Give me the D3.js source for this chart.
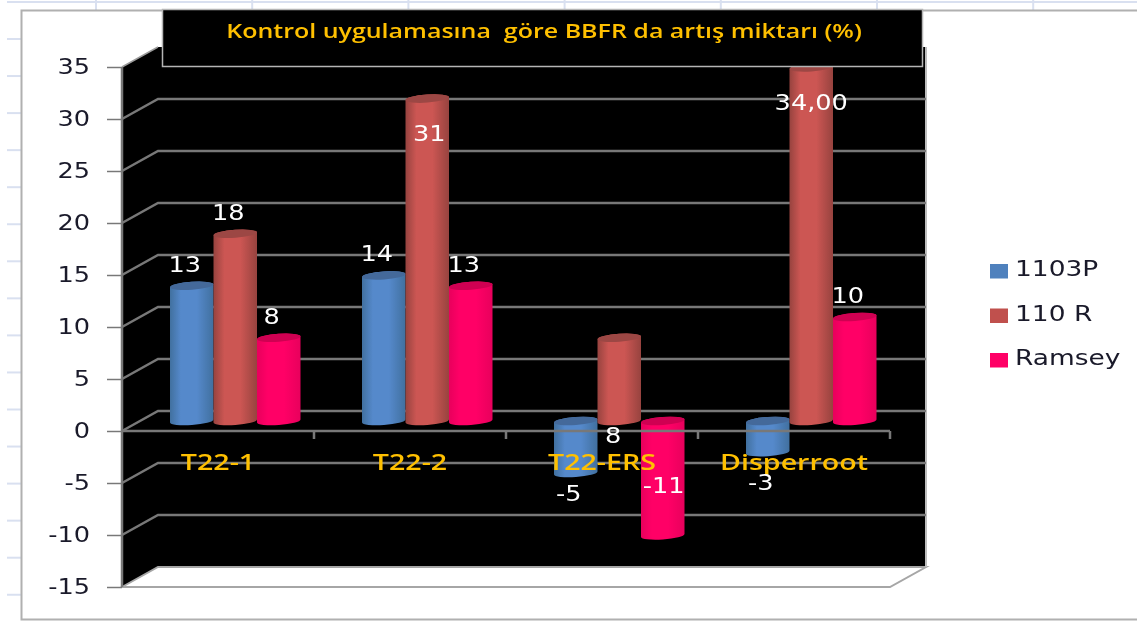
<!DOCTYPE html>
<html><head><meta charset="utf-8">
<script src="https://cdn.jsdelivr.net/npm/d3@7"></script>
<style>
html,body{margin:0;padding:0;background:#fff;overflow:hidden}
svg{display:block;filter:blur(0.45px)}
text{white-space:pre}
</style></head><body>
<svg id="c" width="1137" height="621"></svg>
<script>
const titleText = "Kontrol uygulamasına  göre BBFR da artış miktarı (%)";
const categories = ["T22-1", "T22-2", "T22-ERS", "Disperroot"];
const seriesNames = ["1103P", "110 R", "Ramsey"];
const values1103P = [13, 14, -5, -3];
const values110R = [18, 31, 8, 34];
const valuesRamsey = [8, 13, -11, 10];
const labels1103P = ["13", "14", "-5", "-3"];
const labels110R = ["18", "31", "8", "34,00"];
const labelsRamsey = ["8", "13", "-11", "10"];
const yTicks = [-15, -10, -5, 0, 5, 10, 15, 20, 25, 30, 35];
const seriesColors = [
  {mid:"#5589cb", edge:"#41709f", top:"#44699a", key:"#4f81bd"},
  {mid:"#cc5653", edge:"#97433f", top:"#9c4744", key:"#c0504d"},
  {mid:"#ff0066", edge:"#e8005c", top:"#cf0052", key:"#ff0066"}
];

const svg = d3.select("#c");
const W = 1137, H = 621;
const FRONT_L = 122, FRONT_R = 890, FRONT_TOP = 67, FRONT_BOT = 587;
const DX = 36, DY = -20;
const AX = "#787878";
const SX = 1.22;
const valueFont = "'DejaVu Sans', Verdana, sans-serif";

const y = d3.scaleLinear().domain([-15, 35]).range([FRONT_BOT, FRONT_TOP]);
const x = d3.scaleBand().domain(categories).range([FRONT_L, FRONT_R]);
const inner = d3.scaleBand().domain(seriesNames).range([48, 48 + 130.5]);
const barY = v => y(v) - 10;

// gradient defs
const defs = svg.append("defs");
seriesColors.forEach((c, i) => {
  const g = defs.append("linearGradient").attr("id", "g" + i);
  [[0, c.edge], [0.25, c.mid], [0.62, c.mid], [1, c.edge]].forEach(s =>
    g.append("stop").attr("offset", s[0]).attr("stop-color", s[1]));
});

// spreadsheet remnants behind the chart
const sheet = svg.append("g").attr("stroke", "#d9e0f0").attr("stroke-width", 2).attr("fill", "none");
sheet.append("line").attr("x1", 7).attr("x2", W).attr("y1", 2).attr("y2", 2);
d3.range(96, W, 156.2).forEach(v =>
  sheet.append("line").attr("x1", v).attr("x2", v).attr("y1", 0).attr("y2", 10));
d3.range(39, 600, 37.05).forEach(v =>
  sheet.append("line").attr("x1", 7).attr("x2", 21).attr("y1", v).attr("y2", v));

// chart frame
svg.append("path").attr("d", `M${W},10.5 H21.5 V619.5 H${W}`)
  .attr("fill", "#fff").attr("stroke", "#b0b0b0").attr("stroke-width", 2);

// walls
const wall = svg.append("g");
wall.append("path")
  .attr("d", `M${FRONT_L},${FRONT_TOP} L${FRONT_L + DX},${FRONT_TOP + DY} H${FRONT_R + DX} V${FRONT_BOT + DY} H${FRONT_L + DX} L${FRONT_L},${FRONT_BOT} Z`)
  .attr("fill", "#000");
wall.append("path")
  .attr("d", `M${FRONT_L},${FRONT_BOT} L${FRONT_L + DX},${FRONT_BOT + DY} H${FRONT_R + DX} L${FRONT_R},${FRONT_BOT} Z`)
  .attr("fill", "#fff").attr("stroke", "#a6a6a6").attr("stroke-width", 2);
wall.append("line").attr("x1", FRONT_R + DX).attr("x2", FRONT_R + DX)
  .attr("y1", FRONT_TOP + DY).attr("y2", FRONT_BOT + DY).attr("stroke", "#bdbdbd").attr("stroke-width", 2);
wall.append("line").attr("x1", FRONT_L).attr("x2", FRONT_L + DX)
  .attr("y1", FRONT_TOP).attr("y2", FRONT_TOP + DY).attr("stroke", "#9a9a9a").attr("stroke-width", 1.5);

// gridlines on back and side wall
const grid = svg.append("g").attr("fill", "none").attr("stroke", AX).attr("stroke-width", 2.5);
yTicks.filter(t => t > -15 && t < 35).forEach(t => {
  grid.append("path").attr("d", `M${FRONT_L},${y(t)} L${FRONT_L + DX},${y(t) + DY} H${FRONT_R + DX}`);
});

// y axis
const yAxis = svg.append("g").attr("transform", `translate(${FRONT_L},0)`)
  .call(d3.axisLeft(y).tickValues(yTicks).tickSize(15).tickPadding(0).tickFormat(d3.format("d")));
yAxis.select(".domain").attr("stroke", AX).attr("stroke-width", 2.5).attr("d", `M0,${FRONT_TOP}V${FRONT_BOT}`);
yAxis.selectAll(".tick line").attr("stroke", AX).attr("stroke-width", 1.5);
yAxis.selectAll(".tick text").each(function() {
  const s = d3.select(this), t = s.text();
  s.attr("x", null).attr("dy", null)
   .attr("transform", `translate(-32,6) scale(${SX},1)`)
   .attr("text-anchor", "end").attr("fill", "#1a1a2a")
   .style("font", `21px ${valueFont}`).text(t.replace("−", "-"));
});

// cylinders
const RX = () => inner.bandwidth() / 2, RY = 4, TILT = 1.5;
const allValues = [values1103P, values110R, valuesRamsey];
const allLabels = [labels1103P, labels110R, labelsRamsey];
const bars = [];
allValues.forEach((vals, si) => vals.forEach((v, ci) => bars.push({
  si, ci, v, label: allLabels[si][ci],
  x0: x(categories[ci]) + inner(seriesNames[si]),
  w: inner.bandwidth()
})));
const barG = svg.append("g");
bars.forEach(b => {
  const x0 = b.x0, x1 = b.x0 + b.w;
  const top = barY(Math.max(b.v, 0)), bot = barY(Math.min(b.v, 0));
  const rx = RX();
  barG.append("path")
    .attr("d", `M${x0},${top + TILT} L${x0},${bot + TILT} A${rx},${RY} -4 0 0 ${x1},${bot - TILT} L${x1},${top - TILT} A${rx},${RY} -4 0 0 ${x0},${top + TILT} Z`)
    .attr("fill", `url(#g${b.si})`);
  barG.append("ellipse")
    .attr("cx", (x0 + x1) / 2).attr("cy", top).attr("rx", rx).attr("ry", RY)
    .attr("transform", `rotate(-4 ${(x0 + x1) / 2} ${top})`)
    .attr("fill", seriesColors[b.si].top);
});

// front zero axis with tick marks
const zero = svg.append("g").attr("stroke", AX).attr("stroke-width", 2.5).attr("fill", "none");
zero.append("line").attr("x1", FRONT_L).attr("x2", FRONT_R).attr("y1", y(0)).attr("y2", y(0));
categories.forEach(c => zero.append("line")
  .attr("x1", x(c) + x.bandwidth()).attr("x2", x(c) + x.bandwidth())
  .attr("y1", y(0)).attr("y2", y(0) + 8));

// category labels
svg.append("g").selectAll("text").data(categories).join("text")
  .attr("transform", d => `translate(${x(d) + x.bandwidth() / 2},${y(0) + 39}) scale(1.3,1)`)
  .attr("text-anchor", "middle").attr("fill", "#ffc000")
  .style("font", "600 22px 'Open Sans', sans-serif")
  .text(d => d);

// value labels: default sits beyond the bar end, a few were moved by hand in the source chart
const valueG = svg.append("g");
bars.forEach(b => {
  const cx = b.x0 + b.w / 2;
  let lx = cx - 7, ly;
  if (b.v >= 0) ly = barY(b.v) - 21; else ly = barY(b.v) + 21;
  const key = b.si + "-" + b.ci;
  if (key === "1-1") { lx = cx + 2; ly = barY(b.v) + 35; }
  if (key === "1-2") { lx = cx - 6; ly = barY(0) + 15; }
  if (key === "2-2") { lx = cx + 1; ly = barY(b.v) - 49; }
  if (key === "0-3") { ly = barY(b.v) + 31; }
  if (key === "1-3") { lx = cx; ly = barY(b.v) + 36; }
  valueG.append("text")
    .attr("transform", `translate(${lx},${ly + 7}) scale(${SX},1)`)
    .attr("text-anchor", "middle").attr("fill", "#fff")
    .style("font", `21px ${valueFont}`).text(b.label);
});

// title box
svg.append("rect").attr("x", 162.5).attr("y", 9.5).attr("width", 760).attr("height", 57)
  .attr("fill", "#000").attr("stroke", "#b5b5b5").attr("stroke-width", 1.5);
svg.append("text").attr("transform", "translate(544,38) scale(1.25,1)")
  .attr("text-anchor", "middle").attr("fill", "#ffc000")
  .style("font", "600 20px 'Open Sans', sans-serif").text(titleText);

// legend
const legY = d3.scalePoint().domain(seriesNames).range([271, 360]);
const leg = svg.append("g").selectAll("g").data(seriesNames).join("g")
  .attr("transform", d => `translate(990,${legY(d)})`);
leg.append("rect").attr("x", 0).attr("y", -7).attr("width", 18).attr("height", 14.5)
  .attr("fill", (d, i) => seriesColors[i].key);
leg.append("text").attr("transform", `translate(25,5) scale(1.26,1)`)
  .attr("fill", "#1a1a2a").style("font", `21px ${valueFont}`).text(d => d);
</script>
</body></html>
